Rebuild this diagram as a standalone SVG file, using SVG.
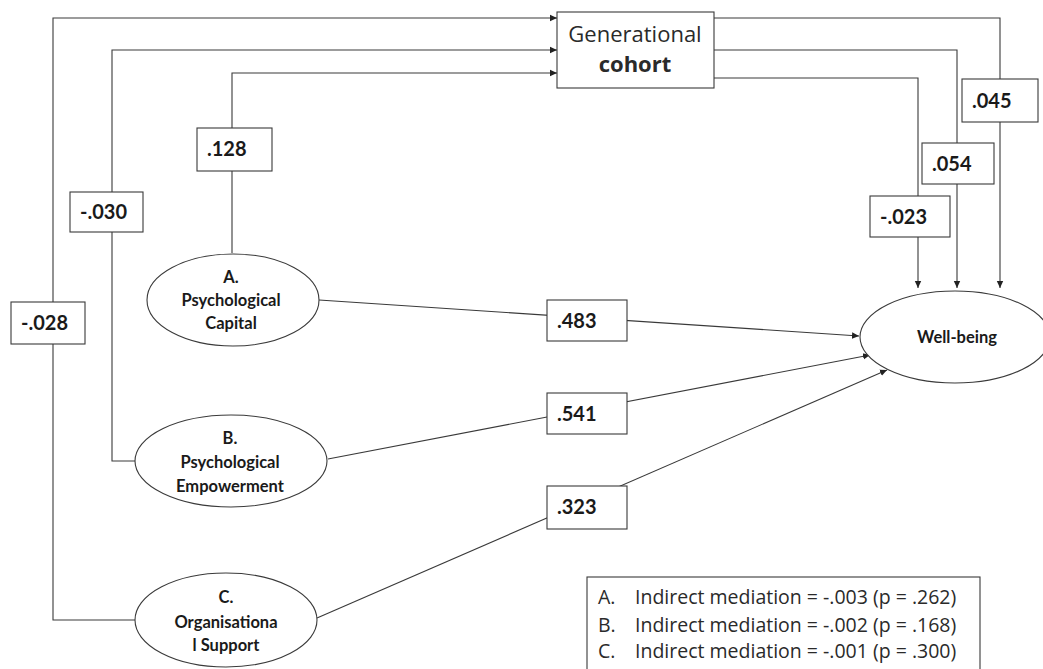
<svg xmlns="http://www.w3.org/2000/svg" width="1043" height="669" viewBox="0 0 1043 669">
  <style>
    .edge { fill: none; stroke: #3a3a3a; stroke-width: 1.1; }
    .box { fill: #ffffff; stroke: #3a3a3a; stroke-width: 1.1; }
    .oval { fill: #ffffff; stroke: #3a3a3a; stroke-width: 1.1; }
    .coef { font-family: Lato, "Liberation Sans", sans-serif; font-weight: bold; font-size: 20px; fill: #1a1a1a; }
    .lv { font-family: Lato, "Liberation Sans", sans-serif; font-weight: bold; font-size: 16.5px; fill: #1a1a1a; text-anchor: middle; }
    .cohort { font-family: "Open Sans", "Liberation Sans", sans-serif; font-size: 22px; fill: #2a2a2a; text-anchor: middle; }
    .legend { font-family: "Open Sans", "Liberation Sans", sans-serif; font-size: 19.5px; fill: #2a2a2a; }
  </style>
  <defs>
    <marker id="arrow" markerWidth="8" markerHeight="8" refX="7" refY="4" orient="auto" markerUnits="userSpaceOnUse">
      <path d="M0,0.8 L7,4 L0,7.2 Z" fill="#222"/>
    </marker>
  </defs>
  <rect width="1043" height="669" fill="#ffffff"/>

  <!-- connectors -->
  <g id="connectors">
    <!-- predictors to generational cohort -->
    <path class="edge" d="M135,620 H53 V18 H557" marker-end="url(#arrow)"/>
    <path class="edge" d="M135,461 H112 V50 H557" marker-end="url(#arrow)"/>
    <path class="edge" d="M232,253 V73 H557" marker-end="url(#arrow)"/>
    <!-- generational cohort to well-being -->
    <path class="edge" d="M714,18 H1000 V288" marker-end="url(#arrow)"/>
    <path class="edge" d="M714,50 H957 V288" marker-end="url(#arrow)"/>
    <path class="edge" d="M714,78 H918 V288" marker-end="url(#arrow)"/>
    <!-- predictors to well-being -->
    <path class="edge" d="M319,300 L859,336" marker-end="url(#arrow)"/>
    <path class="edge" d="M328,459 L870,355" marker-end="url(#arrow)"/>
    <path class="edge" d="M317,618 L887,370" marker-end="url(#arrow)"/>
  </g>

  <!-- path coefficients -->
  <g id="coefficients">
    <rect class="box" x="197" y="128" width="75" height="43"/>
    <text class="coef" x="207" y="156">.128</text>
    <rect class="box" x="70" y="192" width="73" height="40"/>
    <text class="coef" x="80" y="219">-.030</text>
    <rect class="box" x="11" y="302" width="74" height="42"/>
    <text class="coef" x="21" y="330">-.028</text>
    <rect class="box" x="962" y="79" width="76" height="43"/>
    <text class="coef" x="972" y="108">.045</text>
    <rect class="box" x="922" y="143" width="72" height="41"/>
    <text class="coef" x="932" y="171">.054</text>
    <rect class="box" x="870" y="196" width="80" height="41"/>
    <text class="coef" x="880" y="224">-.023</text>
    <rect class="box" x="547" y="300" width="80" height="41"/>
    <text class="coef" x="557" y="328">.483</text>
    <rect class="box" x="547" y="393" width="80" height="41"/>
    <text class="coef" x="557" y="421">.541</text>
    <rect class="box" x="547" y="486" width="80" height="43"/>
    <text class="coef" x="557" y="514">.323</text>
  </g>

  <g id="generational-cohort">
    <rect class="box" x="557" y="12" width="157" height="76"/>
    <text class="cohort" x="635" y="42">Generational</text>
    <text class="cohort" x="635" y="72" font-weight="bold">cohort</text>
  </g>

  <g id="psychological-capital">
    <ellipse class="oval" cx="233" cy="300" rx="86" ry="46"/>
    <text class="lv" x="231" y="283">A.</text>
    <text class="lv" x="231" y="306">Psychological</text>
    <text class="lv" x="231" y="329">Capital</text>
  </g>

  <g id="psychological-empowerment">
    <ellipse class="oval" cx="231" cy="461" rx="96" ry="46"/>
    <text class="lv" x="230" y="444">B.</text>
    <text class="lv" x="230" y="468">Psychological</text>
    <text class="lv" x="230" y="492">Empowerment</text>
  </g>

  <g id="organisational-support">
    <ellipse class="oval" cx="226" cy="620" rx="91" ry="47"/>
    <text class="lv" x="226" y="603">C.</text>
    <text class="lv" x="226" y="628">Organisationa</text>
    <text class="lv" x="226" y="651">l Support</text>
  </g>

  <g id="well-being">
    <ellipse class="oval" cx="955" cy="337" rx="95" ry="46"/>
    <text class="lv" x="957" y="343">Well-being</text>
  </g>

  <g id="legend">
    <rect class="box" x="587" y="577" width="393" height="100"/>
    <text class="legend" x="598" y="604">A.</text>
    <text class="legend" x="635" y="604">Indirect mediation = -.003 (p = .262)</text>
    <text class="legend" x="598" y="632">B.</text>
    <text class="legend" x="635" y="632">Indirect mediation = -.002 (p = .168)</text>
    <text class="legend" x="598" y="658">C.</text>
    <text class="legend" x="635" y="658">Indirect mediation = -.001 (p = .300)</text>
  </g>
</svg>
